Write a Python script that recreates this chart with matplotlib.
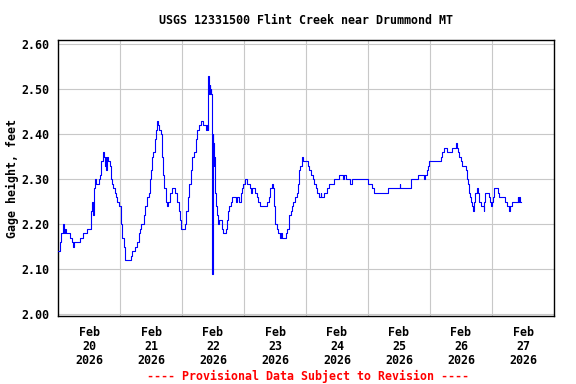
import matplotlib
matplotlib.use("Agg")
import matplotlib.pyplot as plt
import numpy as np

# Hours since Feb 20 2026 00:00 and gage height (feet)
hours = [0.0, 0.77, 1.35, 1.94, 2.32, 2.71, 3.10, 4.65, 5.23, 5.92, 6.31, 8.52, 9.68, 11.11,
         12.66, 12.89, 13.16, 13.43, 13.82, 14.05, 14.44, 14.71, 15.75, 16.26, 16.65, 17.54,
         17.92, 18.31, 18.58, 18.77, 19.08, 19.47, 20.13, 20.52, 20.79, 21.29, 21.95, 22.45,
         22.95, 23.50, 24.39, 24.77, 25.43, 25.82, 26.05, 28.14, 28.65, 29.69, 30.70, 31.24,
         31.63, 32.25, 33.17, 33.79, 34.45, 35.11, 35.61, 35.89, 36.50, 36.89, 37.43, 38.05,
         38.44, 38.83, 39.21, 39.76, 40.26, 40.65, 41.03, 41.69, 42.31, 42.70, 43.24, 44.25,
         45.41, 46.06, 46.72, 47.23, 47.73, 49.05, 49.66, 50.32, 50.83, 51.37, 51.99, 52.53,
         53.30, 53.92, 54.70, 55.47, 56.13, 57.17, 57.68, 57.95, 58.18, 58.34, 58.45, 58.57,
         58.72, 58.84, 59.11, 59.23, 59.50, 59.61, 59.73, 59.89, 60.00, 60.12, 60.27, 60.50,
         60.77, 61.16, 61.66, 62.05, 62.44, 63.37, 63.99, 65.03, 65.54, 65.92, 66.31, 66.85,
         67.47, 68.79, 69.17, 70.18, 70.72, 71.23, 71.73, 72.39, 73.05, 74.32, 74.71, 75.10,
         76.38, 76.92, 77.54, 78.19, 81.02, 81.56, 82.06, 82.72, 83.11, 83.61, 84.00, 84.66,
         85.28, 85.94, 86.32, 86.59, 88.26, 88.76, 89.54, 90.08, 90.46, 91.08, 91.74, 92.40,
         92.79, 93.17, 93.68, 94.34, 94.96, 96.89, 97.28, 97.94, 98.59, 99.21, 99.76, 100.37,
         101.03, 101.69, 101.92, 103.08, 104.01, 105.02, 106.95, 108.89, 110.32, 110.83,
         111.60, 113.15, 113.81, 120.00, 121.55, 122.21, 127.74, 132.27, 132.50, 136.76,
         139.35, 141.68, 142.06, 142.72, 143.34, 143.61, 148.14, 148.76, 149.42, 150.58,
         152.63, 153.95, 154.34, 154.84, 155.23, 155.88, 156.27, 158.05, 158.44, 158.71,
         159.10, 159.48, 159.87, 160.26, 160.76, 161.15, 161.54, 162.08, 162.46, 162.85,
         163.74, 164.79, 165.02, 165.41, 166.72, 167.23, 167.61, 168.00, 168.50, 168.89,
         170.44, 170.83, 173.15, 173.69, 174.58, 174.97, 175.74, 177.95, 178.18, 178.57,
         178.96, 179.34]
gage = [2.14, 2.16, 2.18, 2.20, 2.18, 2.19, 2.18, 2.17, 2.16, 2.15, 2.16, 2.17, 2.18, 2.19,
        2.20, 2.23, 2.25, 2.22, 2.23, 2.28, 2.30, 2.29, 2.30, 2.31, 2.34, 2.36,
        2.35, 2.33, 2.35, 2.32, 2.35, 2.34, 2.33, 2.30, 2.29, 2.28, 2.27, 2.26,
        2.25, 2.24, 2.20, 2.17, 2.15, 2.14, 2.12, 2.13, 2.14, 2.15, 2.16, 2.18,
        2.19, 2.20, 2.22, 2.24, 2.26, 2.27, 2.30, 2.32, 2.35, 2.36, 2.39, 2.41,
        2.43, 2.42, 2.41, 2.40, 2.35, 2.31, 2.28, 2.25, 2.24, 2.25, 2.27, 2.28,
        2.27, 2.25, 2.23, 2.21, 2.19, 2.20, 2.23, 2.26, 2.29, 2.32, 2.35, 2.36,
        2.39, 2.41, 2.42, 2.43, 2.42, 2.41, 2.42, 2.41, 2.53, 2.50, 2.52, 2.49,
        2.51, 2.49, 2.50, 2.49, 2.30, 2.43, 2.09, 2.40, 2.31, 2.38, 2.33, 2.35,
        2.27, 2.24, 2.22, 2.20, 2.21, 2.19, 2.18, 2.19, 2.21, 2.23, 2.24, 2.25,
        2.26, 2.25, 2.26, 2.25, 2.27, 2.28, 2.29, 2.30, 2.29, 2.28, 2.27, 2.28,
        2.27, 2.26, 2.25, 2.24, 2.25, 2.26, 2.28, 2.29, 2.28, 2.24, 2.20, 2.19,
        2.18, 2.17, 2.18, 2.17, 2.18, 2.19, 2.22, 2.23, 2.24, 2.25, 2.26, 2.27,
        2.29, 2.32, 2.33, 2.35, 2.34, 2.33, 2.32, 2.31, 2.30, 2.29, 2.28, 2.27,
        2.26, 2.27, 2.26, 2.27, 2.28, 2.29, 2.30, 2.31, 2.30, 2.31,
        2.30, 2.29, 2.30, 2.29, 2.28, 2.27, 2.28, 2.29, 2.28, 2.30,
        2.31, 2.30, 2.31, 2.32, 2.33, 2.34, 2.35, 2.36, 2.37, 2.36,
        2.37, 2.38, 2.37, 2.36, 2.35, 2.34, 2.33, 2.32, 2.30, 2.29,
        2.27, 2.26, 2.25, 2.24, 2.23, 2.25, 2.27, 2.28, 2.27, 2.25,
        2.24, 2.23, 2.25, 2.27, 2.26, 2.25, 2.24, 2.25, 2.26, 2.28,
        2.27, 2.26, 2.25, 2.24, 2.23, 2.24, 2.25, 2.26, 2.25, 2.26,
        2.25, 2.25]

day_labels = ["Feb\n20\n2026", "Feb\n21\n2026", "Feb\n22\n2026", "Feb\n23\n2026",
              "Feb\n24\n2026", "Feb\n25\n2026", "Feb\n26\n2026", "Feb\n27\n2026"]
y_ticks = [2.00, 2.10, 2.20, 2.30, 2.40, 2.50, 2.60]

FONT = "DejaVu Sans Mono"
FS = 8.4

fig = plt.figure(figsize=(5.76, 3.84), dpi=100)
ax = fig.add_axes([58/576, 1 - 316/384, (554-58)/576, (316-40)/384])

ax.plot(hours, gage, color="#0000ff", linewidth=0.8, drawstyle="steps-post", zorder=3)

ax.set_xlim(0, 192)
ax.set_ylim(1.996, 2.609)

ax.set_yticks(y_ticks)
ax.set_yticklabels([f"{v:.2f}" for v in y_ticks], fontfamily=FONT, fontweight="bold", fontsize=FS)
ax.set_xticks([12 + 24*i for i in range(len(day_labels))])
ax.set_xticklabels(day_labels, fontfamily=FONT, fontweight="bold", fontsize=FS, linespacing=1.12)

ax.tick_params(axis="both", which="both", length=0)
ax.tick_params(axis="y", pad=6)
ax.tick_params(axis="x", pad=7)

ax.grid(False)
for t in y_ticks:
    ax.axhline(t, color="#c8c8c8", linewidth=0.8, zorder=1)
for d in range(1, 8):
    ax.axvline(24*d, color="#c8c8c8", linewidth=0.8, zorder=1)

for s in ax.spines.values():
    s.set_color("black")
    s.set_linewidth(1.0)

ax.set_ylabel("Gage height, feet", fontfamily=FONT, fontweight="bold", fontsize=FS)
ax.yaxis.set_label_coords(-(58 - 19) / 496, 0.5)

fig.text(306/576, 1 - 21/384, "USGS 12331500 Flint Creek near Drummond MT",
         ha="center", va="center", fontfamily=FONT, fontweight="bold", fontsize=FS)
fig.text(308/576, 1 - 376/384, "---- Provisional Data Subject to Revision ----",
         ha="center", va="center", fontfamily=FONT, fontweight="bold", fontsize=FS, color="#ff0000")

fig.savefig("out.png", dpi=100)
